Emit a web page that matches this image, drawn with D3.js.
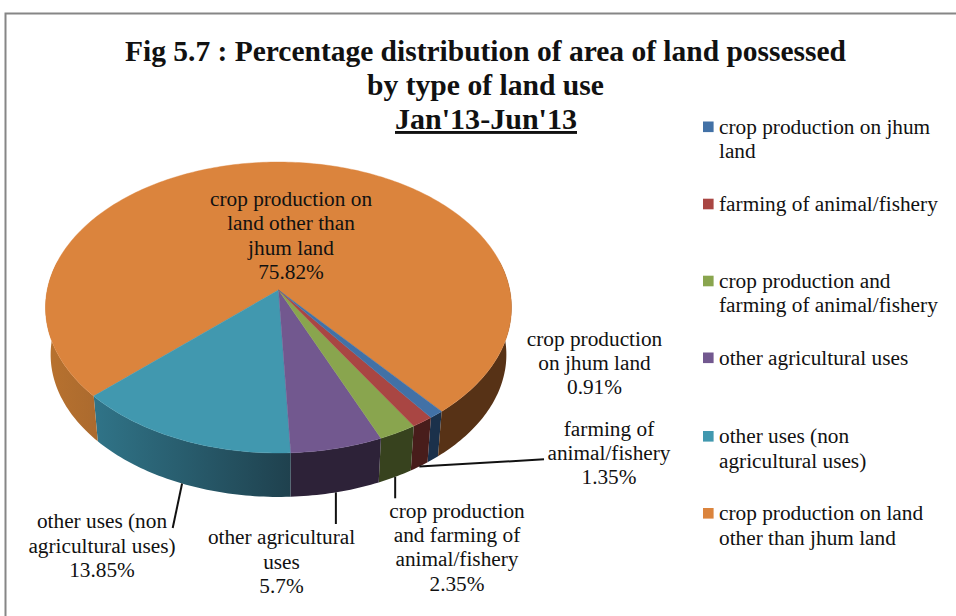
<!DOCTYPE html>
<html>
<head>
<meta charset="utf-8">
<script src="https://cdnjs.cloudflare.com/ajax/libs/d3/7.8.5/d3.min.js"></script>
<style>
html,body{margin:0;padding:0;background:#fff;overflow:hidden}
svg{display:block}
text{font-family:"Liberation Serif","Times New Roman",serif;fill:#111}
</style>
</head>
<body>
<script>
// ---- data ----
const categories = [
  "crop production on jhum land",
  "farming of animal/fishery",
  "crop production and farming of animal/fishery",
  "other agricultural uses",
  "other uses (non agricultural uses)",
  "crop production on land other than jhum land"
];
const values = [0.91, 1.35, 2.35, 5.7, 13.85, 75.82];
const titleLines = ["Fig 5.7 : Percentage distribution of area of land possessed", "by type of land use", "Jan'13-Jun'13"];
const legendLines = [
  ["crop production on jhum", "land"],
  ["farming of animal/fishery"],
  ["crop production and", "farming of animal/fishery"],
  ["other agricultural uses"],
  ["other uses (non", "agricultural uses)"],
  ["crop production on land", "other than jhum land"]
];
const labelLines = [
  ["crop production", "on jhum land"],
  ["farming of", "animal/fishery"],
  ["crop production", "and farming of", "animal/fishery"],
  ["other agricultural", "uses"],
  ["other uses (non", "agricultural uses)"],
  ["crop production on", "land other than", "jhum land"]
];
// ---- styles ----
const topColors  = ["#4271a6", "#a94643", "#89a54e", "#72588f", "#4198af", "#db843d"];
const wallLeft   = ["#1b314b", "#481d1b", "#37421e", "#2d2238", "#307488", "#b8722f"];
const wallRight  = ["#1b314b", "#481d1b", "#37421e", "#2d2238", "#1f414e", "#ab6a2e"];
const wallFarRight = "#573216";

// ---- layout ----
const W = 956, H = 616;
const cx = 278.5, cy = 290;            // apex of the pie on screen
const persp = 0.1203;                  // perspective strength
const planeX = 231.3, planeY = 143.4;  // projected radii before perspective
const baseScale = 0.978, baseDrop = 47.5;
const startDeg = 140.2;
const labelAnchor = [
  {x:594.5, y:346, dy:24.2},
  {x:609,   y:435.7, dy:24, leader:[544,459.3]},
  {x:457,   y:518, dy:24.2, leader:[null,498.3]},
  {x:281.5, y:544, dy:24.5, leader:[null,524]},
  {x:102,   y:528, dy:24.5, leader:[172.7,528]},
  {x:291,   y:206, dy:24.3}
];
const legendY = [133.5, 210.7, 287.7, 364.5, 443, 520];
const legendX = 719, swatchX = 703, swatchSize = 10.6;
const legendDy = 24.5;
const textSize = 21.3, titleSize = 29;

const svg = d3.select("body").append("svg").attr("width", W).attr("height", H);
const defs = svg.append("defs");
svg.append("rect").attr("width", W).attr("height", H).attr("fill", "#fff");

// frame
svg.append("rect").attr("x", 5.5).attr("y", 13.5).attr("width", W + 20).attr("height", H + 20)
  .attr("fill", "none").attr("stroke", "#868686").attr("stroke-width", 2);

// title
const titleGroup = svg.append("g").attr("text-anchor", "middle").attr("font-weight", "bold");
const titleLayout = [[485.5, 60.5, 721], [485.5, 95, 237], [486, 129, 182]];
titleLines.forEach((t, i) => {
  titleGroup.append("text").attr("x", titleLayout[i][0]).attr("y", titleLayout[i][1])
    .attr("font-size", titleSize).attr("textLength", titleLayout[i][2]).attr("lengthAdjust", "spacingAndGlyphs")
    .attr("text-decoration", i === 2 ? "underline" : null).text(t);
});

// ---- pie geometry from d3.pie ----
const toRad = d => d * Math.PI / 180;
const pie = d3.pie().sort(null).value(d => d)
  .startAngle(toRad(startDeg)).endAngle(toRad(startDeg + 360));
const arcs = pie(values);

const sx = d3.scaleLinear().domain([0, 1]).range([0, planeX]);
const sy = d3.scaleLinear().domain([0, 1]).range([0, planeY]);
function project(theta) {
  const u = Math.sin(theta), v = -Math.cos(theta), w = 1 - persp * v;
  return [sx(u / w), sy(v / w)];
}
const topPt = a => { const p = project(a); return [cx + p[0], cy + p[1]]; };
const basePt = a => { const p = project(a); return [cx + p[0] * baseScale, cy + p[1] * baseScale + baseDrop]; };
const steps = (a0, a1) => {
  const n = Math.max(2, Math.ceil((a1 - a0) / toRad(1)));
  return d3.range(n + 1).map(i => a0 + (a1 - a0) * i / n);
};
const pathLine = d3.line();

// walls
const wallGroup = svg.append("g");
const visible = [[toRad(78), toRad(282)], [toRad(78 + 360), toRad(282 + 360)]];
let gid = 0;
arcs.forEach((d, i) => {
  visible.forEach(([lo, hi]) => {
    const a0 = Math.max(d.startAngle, lo), a1 = Math.min(d.endAngle, hi);
    if (a1 <= a0) return;
    const angles = steps(a0, a1);
    const pts = angles.map(topPt).concat(angles.slice().reverse().map(basePt));
    const isFarRight = i === 5 && Math.sin((a0 + a1) / 2) > 0;
    let fill = isFarRight ? wallFarRight : wallLeft[i];
    if (!isFarRight && wallLeft[i] !== wallRight[i]) {
      const id = "wall" + (gid++);
      const xs = d3.extent(pts, p => p[0]);
      const g = defs.append("linearGradient").attr("id", id).attr("gradientUnits", "userSpaceOnUse")
        .attr("x1", xs[0]).attr("x2", xs[1]).attr("y1", 0).attr("y2", 0);
      g.append("stop").attr("offset", 0).attr("stop-color", wallLeft[i]);
      g.append("stop").attr("offset", 1).attr("stop-color", wallRight[i]);
      fill = `url(#${id})`;
    }
    wallGroup.append("path").attr("d", pathLine(pts) + "Z").attr("fill", fill);
  });
});

// top face
const topFace = svg.append("g");
arcs.slice().reverse().forEach(d => {
  const pts = [[cx, cy]].concat(steps(d.startAngle, d.endAngle).map(topPt));
  topFace.append("path").attr("d", pathLine(pts) + "Z").attr("fill", topColors[d.index])
    .attr("stroke", topColors[d.index]).attr("stroke-width", 0.4);
});

// leader lines
const leaders = svg.append("g").attr("stroke", "#111").attr("stroke-width", 2).attr("fill", "none");
arcs.forEach((d, i) => {
  const l = labelAnchor[i].leader;
  if (!l) return;
  const s = basePt((d.startAngle + d.endAngle) / 2);
  leaders.append("line").attr("x1", s[0]).attr("y1", s[1])
    .attr("x2", l[0] === null ? s[0] : l[0]).attr("y2", l[1]);
});

// data labels
const labels = svg.append("g").attr("text-anchor", "middle").attr("font-size", textSize);
arcs.forEach((d, i) => {
  const a = labelAnchor[i];
  labelLines[i].concat([values[i] + "%"]).forEach((t, j) => {
    labels.append("text").attr("x", a.x).attr("y", a.y + j * a.dy).text(t);
  });
});

// legend
const legend = svg.append("g").attr("font-size", textSize);
categories.forEach((c, i) => {
  legend.append("rect").attr("x", swatchX).attr("y", legendY[i] - 12).attr("width", swatchSize).attr("height", swatchSize)
    .attr("fill", topColors[i]);
  legendLines[i].forEach((t, j) => {
    legend.append("text").attr("x", legendX).attr("y", legendY[i] + j * legendDy).text(t);
  });
});
</script>
</body>
</html>
